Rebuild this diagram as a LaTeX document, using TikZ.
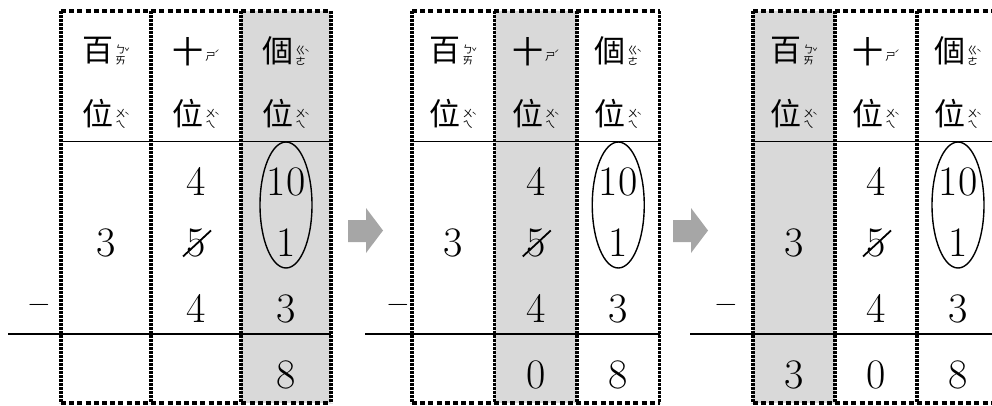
\documentclass[tikz,border=0pt]{standalone}
\usepackage{fontspec}
\newfontfamily\cjk{Noto Sans CJK TC}
\usepackage{tikz}

\definecolor{colshade}{HTML}{D9D9D9}
\definecolor{arrowgray}{HTML}{A6A6A6}

% small bopomofo beside a character
\newcommand{\zhuyin}[3]{{\fontsize{10.5}{10.5}\selectfont\def\arraystretch{0.8}%
  \begin{tabular}[c]{@{}c@{}}#1\\#2\end{tabular}\hspace{-1.5pt}\raisebox{3pt}{\fontsize{9}{9}\selectfont#3}}}
\newcommand{\hanzi}[4]{{\cjk\fontsize{31}{31}\selectfont#1\hspace{2pt}\raisebox{3pt}{\zhuyin{#2}{#3}{#4}}}}

\tikzset{
  digit/.style={font=\fontsize{42}{42}\selectfont, anchor=base, inner sep=0pt},
  head/.style={inner sep=0pt},
  dotv/.style={line width=3.4pt, dash pattern=on 2.6pt off 1.4pt},
  doth/.style={line width=3.4pt, dash pattern=on 5pt off 3.2pt},
}

\begin{document}
\begin{tikzpicture}[x=1pt,y=-1pt]
  \useasboundingbox (0,0) rectangle (992,405);

  \foreach \L/\w/\s/\m/\b/\ha/\ta/\oa [count=\p] in
    {61/90/2/39/8/{}/{}/8, 412/82.5/1/398/365/{}/0/8, 753/82/0/726/690/3/0/8}{
    % shaded column
    \fill[colshade] (\L+\s*\w,11) rectangle (\L+\s*\w+\w,403);

    % headings
    \node[head] (hund\p) at (\L+0.5*\w,52) {\hanzi{百}{ㄅ}{ㄞ}{ˇ}};
    \node[head] (ten\p) at (\L+1.5*\w,52) {\hanzi{十}{ㄕ}{}{ˊ}};
    \node[head] (one\p) at (\L+2.5*\w,52) {\hanzi{個}{ㄍ}{ㄜ}{ˋ}};
    \node[head] (posa\p) at (\L+0.5*\w,115) {\hanzi{位}{ㄨ}{ㄟ}{ˋ}};
    \node[head] (posb\p) at (\L+1.5*\w,115) {\hanzi{位}{ㄨ}{ㄟ}{ˋ}};
    \node[head] (posc\p) at (\L+2.5*\w,115) {\hanzi{位}{ㄨ}{ㄟ}{ˋ}};
    \draw[line width=1pt] (\L,141) -- (\L+3*\w,141); % under headings

    % numbers
    \node[digit] (borrow\p) at (\L+1.5*\w,195) {4};
    \node[digit] (tenten\p) at (\L+2.5*\w,195) {10};
    \node[digit] (three\p) at (\L+0.5*\w,256) {3};
    \node[digit] (five\p) at (\L+1.5*\w,256) {5};
    \node[digit] (unit\p) at (\L+2.5*\w,256) {1};
    \node[font=\fontsize{30}{30}\selectfont, inner sep=0pt] (minus\p) at (\m,308) {−};
    \node[digit] (subt\p) at (\L+1.5*\w,322) {4};
    \node[digit] (subo\p) at (\L+2.5*\w,322) {3};
    \draw[line width=2.8pt] (\b,334) -- (\L+3*\w,334); % answer line
    \node[digit] (ansh\p) at (\L+0.5*\w,388) {\ha};
    \node[digit] (anst\p) at (\L+1.5*\w,388) {\ta};
    \node[digit] (anso\p) at (\L+2.5*\w,388) {\oa};

    % crossed out 5 and the borrowed ten
    \draw[line width=1.8pt] ([shift={(-13,14)}]five\p.center) -- ([shift={(15,-12)}]five\p.center);
    \coordinate (oval\p) at (\L+2.5*\w,205);
    \draw[line width=1.4pt] (oval\p) ellipse [x radius=26, y radius=63];

    % dotted frame
    \foreach \k in {0,...,3}
      \draw[dotv] (\L+\k*\w,11) -- (\L+\k*\w,403);
    \draw[doth] (\L,11) -- (\L+3*\w,11);
    \draw[doth] (\L,403) -- (\L+3*\w,403);
  }

  % arrows between the steps
  \foreach \a in {348,673}
    \fill[arrowgray, xshift=\a] (0,220) -- (18,220) -- (18,208) -- (35,230.5)
      -- (18,253) -- (18,242) -- (0,242) -- cycle;
\end{tikzpicture}
\end{document}
